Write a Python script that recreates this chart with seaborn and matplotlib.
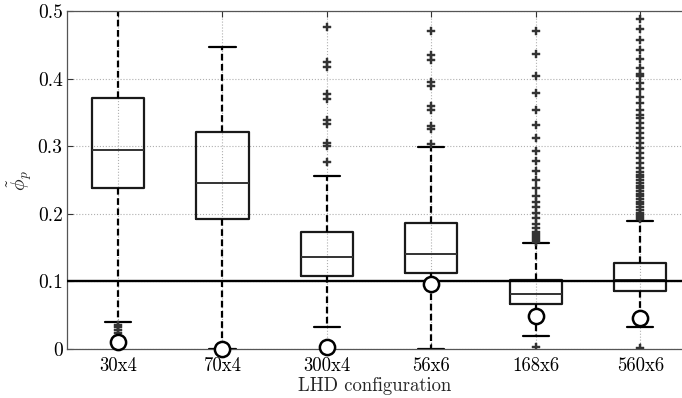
import numpy as np
import matplotlib
matplotlib.use('Agg')
import matplotlib.pyplot as plt
import seaborn as sns

# Valores
categorias = ['30x4', '70x4', '300x4', '56x6', '168x6', '560x6']
q1 = [0.239, 0.192, 0.108, 0.112, 0.066, 0.086]
mediana = [0.294, 0.246, 0.136, 0.141, 0.081, 0.102]
q3 = [0.371, 0.321, 0.173, 0.186, 0.102, 0.128]
bigode_inf = [0.040, 0.0, 0.033, 0.0, 0.019, 0.032]
bigode_sup = [0.600, 0.447, 0.256, 0.299, 0.157, 0.189]
referencia = [0.011, 0.0, 0.003, 0.096, 0.049, 0.046]
limiar = 0.1

outliers_30x4 = [0.036, 0.032, 0.028, 0.024, 0.020, 0.001]
outliers_70x4 = []
outliers_300x4 = [0.476, 0.425, 0.418, 0.377, 0.370, 0.339, 0.333, 0.305, 0.300, 0.277]
outliers_56x6 = [0.470, 0.435, 0.428, 0.395, 0.389, 0.360, 0.354, 0.330, 0.325, 0.304]
outliers_168x6 = [0.470, 0.436, 0.404, 0.379, 0.354, 0.331, 0.312, 0.293, 0.278,
                  0.263, 0.250, 0.238, 0.226, 0.217, 0.210, 0.201, 0.194, 0.185,
                  0.179, 0.173, 0.170, 0.167, 0.164, 0.161, 0.159, 0.003]
outliers_560x6 = [0.488, 0.473, 0.457, 0.442, 0.429, 0.416, 0.407, 0.404, 0.393,
                  0.385, 0.373, 0.364, 0.354, 0.346, 0.342, 0.334, 0.327, 0.320,
                  0.312, 0.305, 0.297, 0.290, 0.283, 0.275, 0.268, 0.262, 0.258,
                  0.254, 0.250, 0.246, 0.242, 0.238, 0.234, 0.230, 0.226, 0.222,
                  0.218, 0.214, 0.210, 0.206, 0.202, 0.198, 0.195, 0.192, 0.002]
outliers = [outliers_30x4, outliers_70x4, outliers_300x4,
            outliers_56x6, outliers_168x6, outliers_560x6]

yticks = [0, 0.1, 0.2, 0.3, 0.4, 0.5]
ytick_labels = ['0', '0.1', '0.2', '0.3', '0.4', '0.5']

# Estilo
sns.set_style('whitegrid', {'grid.linestyle': ':', 'grid.color': '#b0b0b0'})
plt.rcParams['font.family'] = 'serif'
plt.rcParams['font.serif'] = ['cmr10', 'DejaVu Serif']
plt.rcParams['mathtext.fontset'] = 'cm'
plt.rcParams['axes.formatter.use_mathtext'] = True

fig = plt.figure(figsize=(6.82, 3.98), dpi=100)
ax = fig.add_axes([0.098, 0.123, 0.902, 0.849])

posicoes = np.arange(len(categorias))
stats = []
for i, cat in enumerate(categorias):
    stats.append({'label': cat, 'q1': q1[i], 'med': mediana[i], 'q3': q3[i],
                  'whislo': bigode_inf[i], 'whishi': bigode_sup[i],
                  'fliers': np.array(outliers[i])})

ax.bxp(stats, positions=posicoes, widths=0.5, capwidths=0.25,
       boxprops=dict(color='#1a1a1a', linewidth=1.6),
       medianprops=dict(color='#333333', linewidth=1.4),
       whiskerprops=dict(color='black', linewidth=1.6, linestyle=(0, (3, 1.6))),
       capprops=dict(color='black', linewidth=1.6),
       flierprops=dict(marker='P', markersize=5.5, markerfacecolor='#333333',
                       markeredgecolor='#333333', markeredgewidth=0.3,
                       linestyle='none'))

ax.axhline(limiar, color='black', linewidth=1.7, zorder=4)

sns.scatterplot(x=posicoes, y=referencia, ax=ax, s=120, marker='o',
                facecolor='white', edgecolor='black', linewidth=1.8,
                zorder=6, clip_on=False, legend=False)

ax.set_xlim(-0.49, 5.40)
ax.set_ylim(0, 0.5)
ax.set_yticks(yticks)
ax.set_yticklabels(ytick_labels)
ax.set_xticks(posicoes)
ax.set_xticklabels(categorias)
ax.tick_params(axis='both', direction='in', length=4, width=0.8,
               labelsize=14, colors='#333333', labelcolor='black',
               top=True, left=True, bottom=True)
ax.tick_params(axis='y', pad=3)
ax.tick_params(axis='x', pad=6, labelsize=13.5)
ax.grid(True, linestyle=':', color='#b0b0b0', linewidth=0.8)
ax.set_axisbelow(True)

for lado in ['left', 'top', 'bottom']:
    ax.spines[lado].set_color('#555555')
    ax.spines[lado].set_linewidth(0.9)
ax.spines['right'].set_visible(False)

ax.set_xlabel('LHD configuration', fontsize=13.5, labelpad=1)
ax.set_ylabel(r'$\tilde{\phi}_p$', fontsize=14)
ax.yaxis.set_label_coords(-0.054, 0.5)

plt.savefig('out.png', dpi=100)
